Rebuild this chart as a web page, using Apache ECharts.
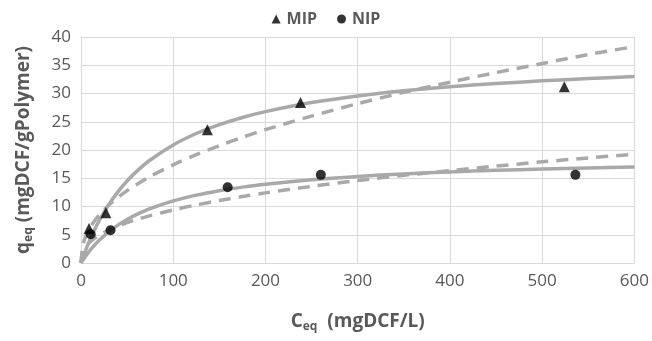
<!DOCTYPE html>
<html>
<head>
<meta charset="utf-8">
<script src="https://cdn.jsdelivr.net/npm/echarts@6/dist/echarts.min.js"></script>
<style>html,body{margin:0;padding:0;background:#fff}#c{width:652px;height:341px}</style>
</head>
<body>
<div id="c"></div>
<script>
// Measured points
const mipX = [8.7, 27, 137, 238, 524];
const mipY = [6.1, 8.9, 23.6, 28.4, 31.2];
const nipX = [10.5, 32, 159, 260, 536];
const nipY = [5.1, 5.8, 13.4, 15.6, 15.6];
// Curve samples
const curveX   = [0, 2, 5, 10, 15, 20, 30, 40, 50, 60, 75, 100, 125, 150, 175, 200, 250, 300, 350, 400, 450, 500, 550, 600];
const mipSolid = [0, 0.93, 2.24, 4.22, 5.99, 7.58, 10.32, 12.60, 14.52, 16.17, 18.23, 20.90, 22.92, 24.49, 25.76, 26.79, 28.39, 29.57, 30.47, 31.19, 31.76, 32.24, 32.64, 32.99];
const mipDash  = [0, 3.10, 4.64, 6.29, 7.53, 8.55, 10.22, 11.60, 12.80, 13.87, 15.31, 17.37, 19.18, 20.78, 22.25, 23.6, 26.0, 28.2, 30.2, 32.0, 33.7, 35.3, 36.9, 38.3];
const nipSolid = [0, 0.50, 1.21, 2.28, 3.23, 4.07, 5.52, 6.71, 7.71, 8.56, 9.62, 10.99, 12.01, 12.80, 13.43, 13.95, 14.74, 15.32, 15.77, 16.12, 16.40, 16.64, 16.83, 17.00];
const nipDash  = [0, 1.97, 2.84, 3.74, 4.40, 4.94, 5.81, 6.52, 7.13, 7.66, 8.38, 9.40, 10.28, 11.06, 11.76, 12.41, 13.56, 14.60, 15.51, 16.36, 17.16, 17.9, 18.6, 19.25];
const xTicks = [0, 100, 200, 300, 400, 500, 600];
const yTicks = [0, 5, 10, 15, 20, 25, 30, 35, 40];

const zip = (xs, ys) => xs.map((x, i) => [x, ys[i]]);
const gray = '#a9a9a9';
const txt = '#595959';
const font = 'Open Sans';

const chart = echarts.init(document.getElementById('c'));
const lineS = (data, dashed) => ({
  type: 'line', data: zip(curveX, data), smooth: 0.3, showSymbol: false, silent: true,
  lineStyle: { color: gray, width: 3.5, type: dashed ? [12, 8] : 'solid' }, z: 1
});
const rich = {
  b: { fontSize: 19, fontWeight: 'bold', color: txt, fontFamily: font },
  s: { fontSize: 12, fontWeight: 'bold', color: txt, fontFamily: font, padding: [10, 0, 0, 0] }
};
chart.setOption({
  animation: false,
  textStyle: { fontFamily: font },
  legend: {
    data: [{ name: 'MIP', icon: 'triangle' }, { name: 'NIP', icon: 'circle' }],
    top: 6, left: 'center', itemWidth: 9, itemHeight: 9, itemGap: 20,
    textStyle: { color: txt, fontSize: 16, fontWeight: 'bold', fontFamily: font, padding: [0, 0, 0, 1] }
  },
  grid: { left: 81, right: 17, top: 37, bottom: 78 },
  xAxis: {
    type: 'value', min: xTicks[0], max: xTicks[xTicks.length - 1], interval: xTicks[1] - xTicks[0],
    axisLine: { show: true, lineStyle: { color: '#d9d9d9' } },
    axisTick: { show: false },
    splitLine: { show: true, lineStyle: { color: '#d9d9d9' } },
    axisLabel: { color: txt, fontSize: 17, margin: 10, fontFamily: font },
    name: '{b|C}{s|eq}{b|  (mgDCF/L)}', nameLocation: 'middle', nameGap: 48,
    nameTextStyle: { rich }
  },
  yAxis: {
    type: 'value', min: yTicks[0], max: yTicks[yTicks.length - 1], interval: yTicks[1] - yTicks[0],
    axisLine: { show: false }, axisTick: { show: false },
    splitLine: { show: true, lineStyle: { color: '#d9d9d9' } },
    axisLabel: { color: txt, fontSize: 17, margin: 10, fontFamily: font },
    name: '{b|q}{s|eq}{b| (mgDCF/gPolymer)}', nameLocation: 'middle', nameGap: 46, nameRotate: 90,
    nameTextStyle: { rich }
  },
  series: [
    lineS(mipSolid, false), lineS(mipDash, true), lineS(nipSolid, false), lineS(nipDash, true),
    { name: 'MIP', type: 'scatter', data: zip(mipX, mipY), symbol: 'triangle', symbolSize: 11,
      itemStyle: { color: '#000' }, z: 5 },
    { name: 'NIP', type: 'scatter', data: zip(nipX, nipY), symbol: 'circle', symbolSize: 10,
      itemStyle: { color: '#000' }, z: 5 }
  ]
});
</script>
</body>
</html>
